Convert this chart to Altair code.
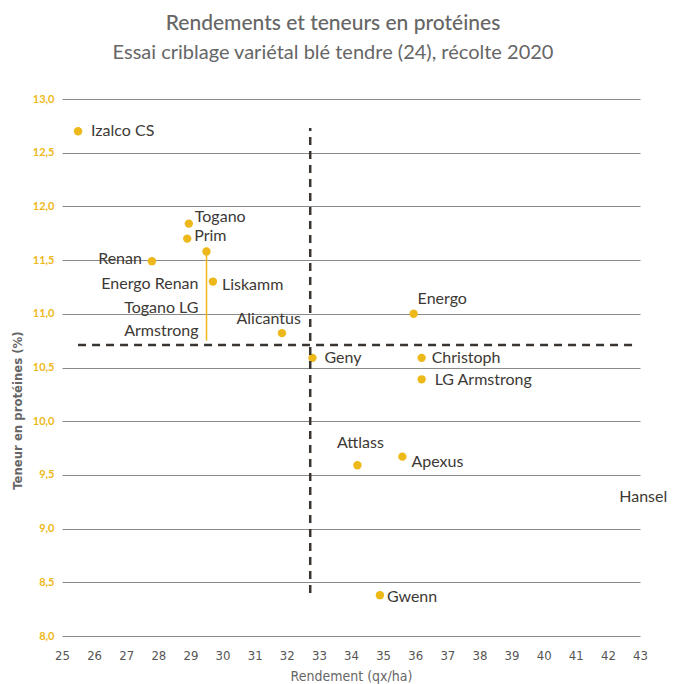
import altair as alt
import pandas as pd

# Point data (yield qx/ha, protein %)
names = ["Izalco CS", "Togano", "Prim", "Renan", "Liskamm", "Alicantus", "Geny",
         "Energo", "Christoph", "LG Armstrong", "Attlass", "Apexus", "Gwenn"]
rendement = [25.5, 28.95, 28.9, 27.8, 29.7, 31.85, 32.8, 35.95, 36.2, 36.2, 34.2, 35.6, 34.9]
proteines = [12.70, 11.84, 11.70, 11.49, 11.30, 10.82, 10.59, 11.00, 10.59, 10.39, 9.59, 9.67, 8.38]

# Unmarked point with leader line
lead_x = [29.5]
lead_y = [11.58]
lead_y2 = [10.75]

# Labels without visible points
extra_names = ["Energo Renan", "Togano LG", "Armstrong", "Hansel"]
extra_x = [29.25, 29.25, 29.25, 43.1]
extra_y = [11.28, 11.05, 10.84, 9.29]

# Mean lines
mean_rdt = 32.73
mean_prot = 10.71
rdt_range = [25.5, 42.85]
prot_range = [8.4, 12.73]

x_ticks = list(range(25, 44))
y_ticks = [8.0, 8.5, 9.0, 9.5, 10.0, 10.5, 11.0, 11.5, 12.0, 12.5, 13.0]

GOLD = "#EDB81A"
DARK = "#3d3935"

df = pd.DataFrame({"name": names, "x": rendement, "y": proteines})
extra = pd.DataFrame({"name": extra_names, "x": extra_x, "y": extra_y})

xs = alt.Scale(domain=[25, 43], nice=False, zero=False)
ys = alt.Scale(domain=[8, 13], nice=False, zero=False)

x_axis = alt.Axis(values=x_ticks, title="Rendement (qx/ha)", grid=False,
                  ticks=False, domain=False, labelPadding=13,
                  labelOverlap=False, labelFlush=False,
                  labelFont="DejaVu Sans Condensed", labelFontSize=13,
                  labelColor="#555555", titleFont="DejaVu Sans Condensed",
                  titleFontSize=14, titleFontWeight="normal", titleColor="#666666",
                  titlePadding=7)
y_axis = alt.Axis(values=y_ticks, title="Teneur en protéines (%)", grid=True,
                  gridColor="#8a8a8a", gridWidth=1, ticks=False, domain=False,
                  labelOverlap=False,
                  labelExpr="replace(format(datum.value, '.1f'), '.', ',')",
                  labelFont="Lato", labelFontWeight="bold", labelFontSize=11,
                  labelColor=GOLD, labelPadding=8,
                  titleFont="DejaVu Sans Condensed", titleFontSize=13,
                  titleFontWeight="bold", titleColor="#666666",
                  titleX=-38, titleY=311)

X = alt.X("x:Q", scale=xs, axis=x_axis)
Y = alt.Y("y:Q", scale=ys, axis=y_axis)

base = alt.Chart(df)

points = base.mark_circle(size=70, color=GOLD, opacity=1).encode(x=X, y=Y)

# label styles: name -> (align, dx, dy)
label_styles = {
    "Izalco CS": ("left", 13, 0),
    "Togano": ("left", 6, -7),
    "Prim": ("left", 7, -3),
    "Renan": ("right", -10, -2),
    "Liskamm": ("left", 9, 3),
    "Alicantus": ("right", 19, -14),
    "Geny": ("left", 12, 0),
    "Energo": ("left", 4, -15),
    "Christoph": ("left", 10, 0),
    "LG Armstrong": ("left", 13, 1),
    "Attlass": ("center", 3, -22),
    "Apexus": ("left", 9, 5),
    "Gwenn": ("left", 7, 2),
}

layers = []
for nm, (al, dx, dy) in label_styles.items():
    layers.append(
        base.transform_filter(alt.datum.name == nm).mark_text(
            align=al, baseline="middle", dx=dx, dy=dy, font="Lato", fontSize=16, color=DARK
        ).encode(x=X, y=Y, text="name:N")
    )

extra_text = alt.Chart(extra).transform_filter(alt.datum.name != "Hansel").mark_text(
    align="right", baseline="middle", font="Lato", fontSize=16, color=DARK
).encode(x=X, y=Y, text="name:N")

hansel = alt.Chart(extra).transform_filter(alt.datum.name == "Hansel").mark_text(
    align="center", baseline="middle", font="Lato", fontSize=16, color=DARK
).encode(x=X, y=Y, text="name:N")

lead_df = pd.DataFrame({"x": lead_x, "y": lead_y, "y2": lead_y2})
leader = alt.Chart(lead_df).mark_rule(color=GOLD, strokeWidth=1.5).encode(
    x=X, y=Y, y2="y2:Q")
lead_pt = alt.Chart(lead_df).mark_circle(size=70, color=GOLD, opacity=1).encode(x=X, y=Y)

vdf = pd.DataFrame({"x": [mean_rdt], "y": [prot_range[0]], "y2": [prot_range[1]]})
hdf = pd.DataFrame({"y": [mean_prot], "x": [rdt_range[0]], "x2": [rdt_range[1]]})
vline = alt.Chart(vdf).mark_rule(color="#3a3530", strokeWidth=2.5, strokeDash=[8, 6]).encode(
    x=X, y=Y, y2="y2:Q")
hline = alt.Chart(hdf).mark_rule(color="#3a3530", strokeWidth=2.5, strokeDash=[8, 6]).encode(
    y=Y, x=X, x2="x2:Q")

chart = alt.layer(points, leader, lead_pt, vline, hline, extra_text, hansel, *layers).properties(
    width=578, height=537,
    autosize=alt.AutoSizeParams(type="none"),
    padding={"left": 54, "top": 91, "right": 27, "bottom": 48},
    title=alt.TitleParams(
        text="Rendements et teneurs en protéines",
        subtitle="Essai criblage variétal blé tendre (24), récolte 2020",
        anchor="middle", dx=-18, offset=30, font="Lato", fontSize=21,
        fontWeight=500, color="#666666", subtitleFont="Lato",
        subtitleFontSize=20, subtitleColor="#666666", subtitlePadding=9),
).configure_view(stroke=None)

chart.save("out.html", embed_options={"renderer": "svg", "actions": False})
